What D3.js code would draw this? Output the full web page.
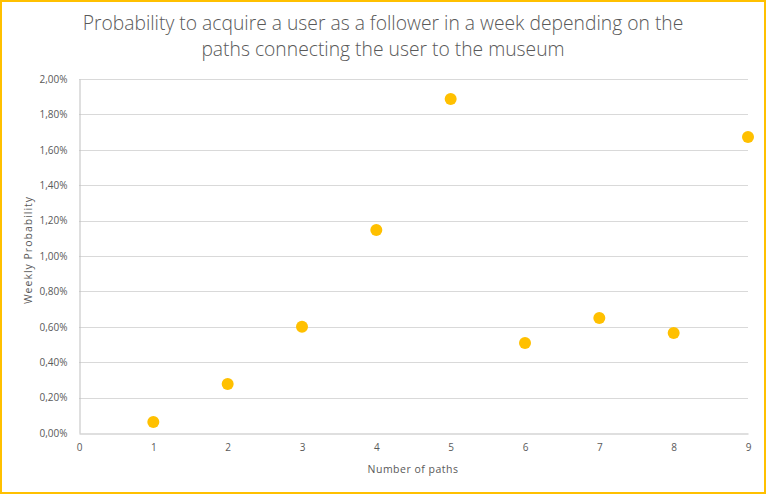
<!DOCTYPE html>
<html><head><meta charset="utf-8">
<script src="https://cdn.jsdelivr.net/npm/d3@7"></script>
<style>
html,body{margin:0;padding:0;background:#fff;}
svg{display:block;}
text{font-family:"Open Sans","DejaVu Sans",sans-serif;fill:#595959;}
</style></head><body>
<svg id="c" width="766" height="494"></svg>
<script>
const paths = [1,2,3,4,5,6,7,8,9];
const probability = [0.062,0.277,0.60,1.147,1.887,0.508,0.65,0.565,1.672];
const xTicks = [0,1,2,3,4,5,6,7,8,9];
const yTicks = [0,0.2,0.4,0.6,0.8,1.0,1.2,1.4,1.6,1.8,2.0];
const titleLines = ["Probability to acquire a user as a follower in a week depending on the","paths connecting the user to the museum"];

const svg = d3.select("#c");
const W=766,H=494;
svg.append("rect").attr("x",1).attr("y",1).attr("width",W-2).attr("height",H-2)
  .attr("fill","#fff").attr("stroke","#FFC000").attr("stroke-width",2);

const m={l:79,r:748,t:79,b:433};
const x=d3.scaleLinear().domain([0,9]).range([m.l,m.r]);
const y=d3.scaleLinear().domain([0,2]).range([m.b,m.t]);

svg.append("g").selectAll("line").data(yTicks.filter(d=>d>0)).join("line")
  .attr("x1",m.l).attr("x2",m.r).attr("y1",d=>Math.round(y(d))+0.5).attr("y2",d=>Math.round(y(d))+0.5)
  .attr("stroke","#D9D9D9").attr("stroke-width",1);

const fmt=d=>d.toFixed(2).replace(".",",")+"%";
const ya=svg.append("g").attr("transform",`translate(${m.l+0.5},0)`)
  .call(d3.axisLeft(y).tickValues(yTicks).tickFormat(fmt).tickSize(0).tickPadding(12));
ya.select(".domain").attr("stroke","#BFBFBF");
ya.selectAll("text").attr("font-size","10px").style("font-family","'Open Sans',sans-serif").attr("fill","#595959");

const xa=svg.append("g").attr("transform",`translate(0,${m.b+0.5})`)
  .call(d3.axisBottom(x).tickValues(xTicks).tickFormat(d3.format("d")).tickSize(0).tickPadding(10));
xa.select(".domain").attr("stroke","#BFBFBF");
xa.selectAll("text").attr("font-size","10px").style("font-family","'Open Sans',sans-serif").attr("fill","#595959");

svg.append("text").attr("x",413).attr("y",473).attr("text-anchor","middle").attr("font-size","10.5px").attr("letter-spacing","0.5px").text("Number of paths");
svg.append("text").attr("transform","translate(32,250) rotate(-90)").attr("text-anchor","middle").attr("font-size","10.5px").attr("letter-spacing","1px").text("Weekly Probability");

svg.append("g").selectAll("text").data(titleLines).join("text")
  .attr("x",383).attr("y",(d,i)=>30+i*26).attr("text-anchor","middle")
  .attr("font-size","19.3px").attr("font-weight","300").text(d=>d);

svg.append("g").selectAll("circle").data(paths).join("circle")
  .attr("cx",d=>x(d)).attr("cy",(d,i)=>y(probability[i])).attr("r",6).attr("fill","#FFC000");
</script></body></html>
